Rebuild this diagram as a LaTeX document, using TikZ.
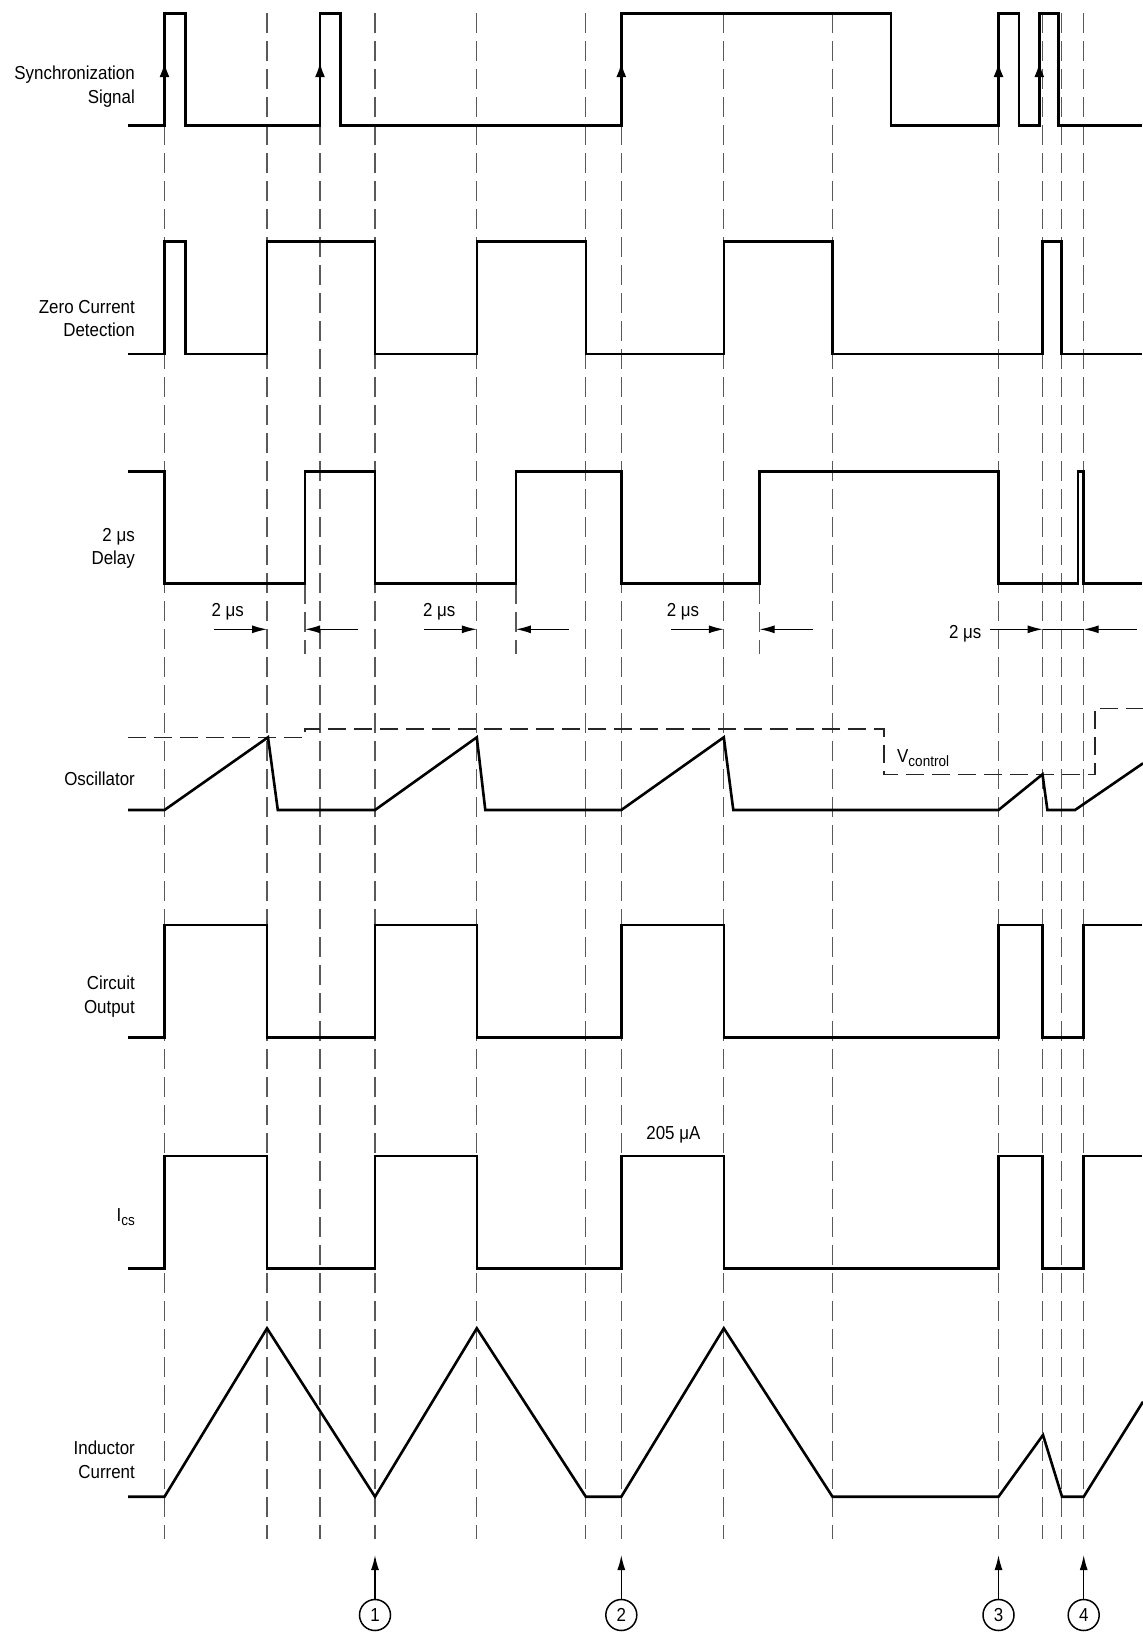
\documentclass[tikz,border=0pt]{standalone}
\usepackage{fontspec}
\setmainfont{Liberation Sans}[FakeStretch=0.9]
\usetikzlibrary{arrows.meta}
\newcommand\lblfont{\fontsize{18.8}{23.5}\selectfont}
\newcommand\subfont{\fontsize{15}{15}\selectfont}
\newcommand\mysub[1]{\raisebox{-4pt}{\subfont #1}}
\tikzset{
  sig/.style={line width=2.6pt, line join=miter, line cap=butt},
  guide/.style={line width=1.2pt, black!65, dash pattern=on 20pt off 8pt},
  vctl/.style={line width=1.3pt, black!85, dash pattern=on 18pt off 8pt},
  lbl/.style={anchor=east, align=right, inner sep=0pt, font=\lblfont},
  txt/.style={inner sep=0pt, font=\lblfont},
  dimarr/.style={line width=1.2pt, -{Latex[length=15pt,width=8pt]}},
  dimline/.style={line width=1.2pt},
  edgearr/.style={line width=2.6pt, -{Latex[length=15pt,width=10pt]}},
  circ/.style={circle, draw, line width=1.5pt, minimum size=31pt, inner sep=0pt, font=\lblfont},
  callarr/.style={line width=1.4pt, -{Latex[length=15pt,width=8pt]}}
}
\begin{document}
\begin{tikzpicture}[x=1pt, y=-1pt]
\useasboundingbox (0,0) rectangle (1143,1634);

% vertical dashed guides
\foreach \x in {164.5,267,320,375,476.8,585.8,621.3,723.8,832.5,998.5,1042.6,1061.4,1083.7}
  \draw[guide] (\x,13.3) -- (\x,1539);
% short dashed guides from delay edges
\foreach \x in {305,515.9,759.6}
  \draw[guide] (\x,584) -- (\x,654);

% labels
\node[lbl] (lsync) at (135,86.4) {Synchronization\\Signal};
\node[lbl] (lzcd) at (135,318.3) {Zero Current\\Detection};
\node[lbl] (ldel) at (135,548.4) {2 μs\\Delay};
\node[lbl] (losc) at (135,778.3) {Oscillator};
\node[lbl] (lout) at (135,996.6) {Circuit\\Output};
\node[lbl, anchor=base east] (lics) at (135,1221.5) {I\mysub{cs}};
\node[lbl] (lind) at (135,1459.9) {Inductor\\Current};

% Synchronization signal
\draw[sig] (128,125.7) -- (164.5,125.7) -- (164.5,13.3) -- (185.7,13.3) -- (185.7,125.7)
  -- (320,125.7) -- (320,13.3) -- (340.7,13.3) -- (340.7,125.7)
  -- (621.3,125.7) -- (621.3,13.3) -- (891,13.3) -- (891,125.7)
  -- (998.5,125.7) -- (998.5,13.3) -- (1019,13.3) -- (1019,125.7)
  -- (1039.3,125.7) -- (1039.3,13.3) -- (1058.3,13.3) -- (1058.3,125.7) -- (1142,125.7);
\foreach \x in {164.5,320,621.3,998.5,1039.3}
  \draw[edgearr] (\x,100) -- (\x,62);

% Zero current detection
\draw[sig] (128,354) -- (164.5,354) -- (164.5,241.3) -- (185.7,241.3) -- (185.7,354)
  -- (267,354) -- (267,241.3) -- (375,241.3) -- (375,354)
  -- (476.8,354) -- (476.8,241.3) -- (585.8,241.3) -- (585.8,354)
  -- (723.8,354) -- (723.8,241.3) -- (832.5,241.3) -- (832.5,354)
  -- (1042.6,354) -- (1042.6,241.3) -- (1061.4,241.3) -- (1061.4,354) -- (1142,354);

% 2 us delay
\draw[sig] (128,471.7) -- (164.5,471.7) -- (164.5,583.3) -- (305,583.3) -- (305,471.7)
  -- (375,471.7) -- (375,583.3) -- (515.9,583.3) -- (515.9,471.7)
  -- (621.3,471.7) -- (621.3,583.3) -- (759.6,583.3) -- (759.6,471.7)
  -- (998.5,471.7) -- (998.5,583.3) -- (1077.8,583.3) -- (1077.8,471.7)
  -- (1083.7,471.7) -- (1083.7,583.3) -- (1142,583.3);

% 2 us annotations
\node[txt] (t1) at (227.7,611.7) {2 μs};
\node[txt] (t2) at (439.3,611.7) {2 μs};
\node[txt] (t3) at (683,611.7) {2 μs};
\node[txt] (t4) at (965.3,633.3) {2 μs};
\coordinate (a1s) at (214.3,629.3); \coordinate (a1e) at (267,629.3);
\coordinate (b1s) at (357.8,629.3); \coordinate (b1e) at (305,629.3);
\coordinate (a2s) at (424,629.3);   \coordinate (a2e) at (476.8,629.3);
\coordinate (b2s) at (569,629.3);   \coordinate (b2e) at (515.9,629.3);
\coordinate (a3s) at (671,629.3);   \coordinate (a3e) at (723.8,629.3);
\coordinate (b3s) at (812.6,629.3); \coordinate (b3e) at (759.6,629.3);
\coordinate (a4s) at (989.5,629.3); \coordinate (a4e) at (1042.6,629.3);
\coordinate (b4s) at (1136.7,629.3); \coordinate (b4e) at (1083.7,629.3);
\draw[dimarr] (a1s) -- (a1e);
\draw[dimarr] (b1s) -- (b1e);
\draw[dimarr] (a2s) -- (a2e);
\draw[dimarr] (b2s) -- (b2e);
\draw[dimarr] (a3s) -- (a3e);
\draw[dimarr] (b3s) -- (b3e);
\draw[dimarr] (a4s) -- (a4e);
\draw[dimarr] (b4s) -- (b4e);
\draw[dimline] (a4e) -- (b4e);

% Oscillator
\draw[vctl] (128,737.3) -- (305,737.3) -- (305,729) -- (884,729) -- (884,774.3)
  -- (1095,774.3) -- (1095,708.3) -- (1143,708.3);
\node[txt, anchor=base west] (vc) at (897,762.5) {V\mysub{control}};
\draw[sig] (128,810) -- (164.5,810) -- (268,737.3) -- (277.8,810) -- (375,810)
  -- (476.8,737.3) -- (485.3,810) -- (621.3,810) -- (723.8,737.3) -- (733.3,810)
  -- (998.5,810) -- (1042.5,774.3) -- (1047.4,810) -- (1075,810) -- (1143,763.3);

% Circuit output
\draw[sig] (128,1037.3) -- (164.5,1037.3) -- (164.5,925) -- (267,925) -- (267,1037.3)
  -- (375,1037.3) -- (375,925) -- (476.8,925) -- (476.8,1037.3)
  -- (621.3,1037.3) -- (621.3,925) -- (723.8,925) -- (723.8,1037.3)
  -- (998.5,1037.3) -- (998.5,925) -- (1042.6,925) -- (1042.6,1037.3)
  -- (1083.7,1037.3) -- (1083.7,925) -- (1142,925);

% I_cs
\draw[sig] (128,1268.7) -- (164.5,1268.7) -- (164.5,1156) -- (267,1156) -- (267,1268.7)
  -- (375,1268.7) -- (375,1156) -- (476.8,1156) -- (476.8,1268.7)
  -- (621.3,1268.7) -- (621.3,1156) -- (723.8,1156) -- (723.8,1268.7)
  -- (998.5,1268.7) -- (998.5,1156) -- (1042.6,1156) -- (1042.6,1268.7)
  -- (1083.7,1268.7) -- (1083.7,1156) -- (1142,1156);
\node[txt] (ia) at (673.4,1135) {205 μA};

% Inductor current
\draw[sig] (128,1496.7) -- (164.5,1496.7) -- (267,1328.3) -- (375,1496.7) -- (476.8,1328.3)
  -- (585.8,1496.7) -- (621.3,1496.7) -- (723.8,1328.3) -- (832.5,1496.7)
  -- (998.5,1496.7) -- (1043,1435) -- (1062,1496.7) -- (1083.7,1496.7) -- (1143,1401.7);

% numbered callouts
\node[circ] (n1) at (375,1615) {1};
\node[circ] (n2) at (621.3,1615) {2};
\node[circ] (n3) at (998.5,1615) {3};
\node[circ] (n4) at (1083.7,1615) {4};
\coordinate (p1) at (375,1555);
\coordinate (p2) at (621.3,1555);
\coordinate (p3) at (998.5,1555);
\coordinate (p4) at (1083.7,1555);
\draw[callarr] (n1) -- (p1);
\draw[callarr] (n2) -- (p2);
\draw[callarr] (n3) -- (p3);
\draw[callarr] (n4) -- (p4);
\end{tikzpicture}
\end{document}
